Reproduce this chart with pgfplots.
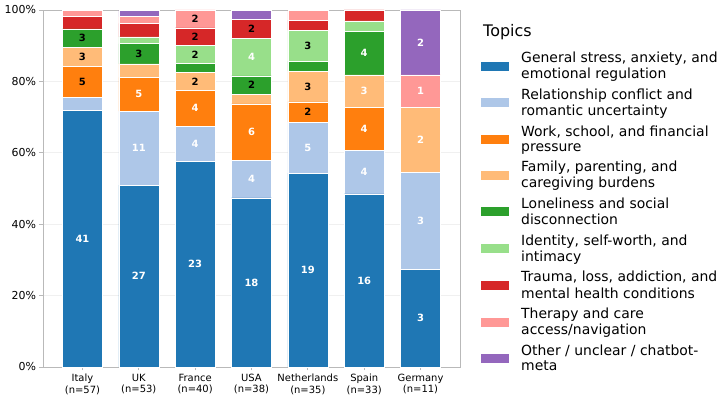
\documentclass[border=0pt]{standalone}
\usepackage{pgfplots}
\pgfplotsset{compat=1.18}
\usepackage{pgfplotstable}
\usepackage{fontspec}
\setmainfont{DejaVu Sans}

\definecolor{cGen}{HTML}{1F77B4}
\definecolor{cRel}{HTML}{AEC7E8}
\definecolor{cWork}{HTML}{FF7F0E}
\definecolor{cFam}{HTML}{FFBB78}
\definecolor{cLone}{HTML}{2CA02C}
\definecolor{cIdent}{HTML}{98DF8A}
\definecolor{cTrauma}{HTML}{D62728}
\definecolor{cTher}{HTML}{FF9896}
\definecolor{cOther}{HTML}{9467BD}

% conversation counts per topic, one row per country (n = total)
\pgfplotstableread{
x n  gen rel work fam lone ident trauma ther other
0 57 41  2   5    3   3    0     2      1    0
1 53 27  11  5    2   3    1     2      1    1
2 40 23  4   4    2   1    2     2      2    0
3 38 18  4   6    1   2    4     2      0    1
4 35 19  5   2    3   1    3     1      1    0
5 33 16  4   4    3   4    1     1      0    0
6 11 3   3   0    2   0    0     0      1    2
}\topics

% for a topic column: its share in percent, and a "count/n" label column
\newcommand\prep[1]{%
  \pgfplotstablecreatecol[expr={\thisrow{#1}/\thisrow{n}*100}]{#1p}\topics
  \pgfplotstablecreatecol[create col/assign/.code={%
      \getthisrow{#1}\segc \getthisrow{n}\segn
      \edef\segentry{\segc/\segn}%
      \pgfkeyslet{/pgfplots/table/create col/next content}\segentry}]{#1l}\topics}
\prep{gen}\prep{rel}\prep{work}\prep{fam}\prep{lone}
\prep{ident}\prep{trauma}\prep{ther}\prep{other}

% segment label: hidden below 5 %, black up to 9 %, white above
\def\seglab#1/#2\relax{%
  \pgfmathsetmacro\segshare{#1/#2}%
  \pgfmathtruncatemacro\lvl{\segshare<0.049 ? 0 : (\segshare<0.09 ? 1 : 2)}%
  \ifcase\lvl
  \or\textcolor{black}{#1}%
  \or\textcolor{white}{#1}%
  \fi}

\pgfplotsset{
  seg/.style={draw=white, line width=0.5bp, forget plot,
    point meta=explicit symbolic,
    nodes near coords={\expandafter\seglab\pgfplotspointmeta\relax},
    every node near coord/.style={anchor=center, inner sep=0pt,
      font=\bfseries\fontsize{10}{12}\selectfont}},
  swatch/.style={legend image code/.code={\fill[##1, draw=none] (0bp,-4.5bp) rectangle (28bp,4.5bp);}},
}

\newcommand\segplot[3]{%
  \addplot[seg, fill=#2] table[x=x, y=#1p, meta=#1l]{\topics};
  \addlegendimage{swatch, fill=#2}
  \addlegendentry{#3}}

\begin{document}
\begin{tikzpicture}
\useasboundingbox (-43bp,-32bp) rectangle (680bp,367bp);
\begin{axis}[
  at={(0,0)}, anchor=south west,
  scale only axis, width=417bp, height=357bp,
  ybar stacked, bar width=0.71,
  xmin=-0.7, xmax=6.7, ymin=0, ymax=100,
  xtick={0,...,6},
  xticklabels={{Italy\\(n=57)},{UK\\(n=53)},{France\\(n=40)},{USA\\(n=38)},
                {Netherlands\\(n=35)},{Spain\\(n=33)},{Germany\\(n=11)}},
  ytick={0,20,...,100},
  yticklabel={\pgfmathprintnumber{\tick}\%},
  /pgf/number format/assume math mode=true,
  xticklabel style={font=\fontsize{10}{11.5}\selectfont, align=center},
  yticklabel style={font=\fontsize{11}{13}\selectfont},
  tick pos=left, tick align=outside, major tick length=3.5bp,
  axis line style={draw=gray!55, line width=0.8bp},
  tick style={draw=gray!55, line width=0.8bp},
  ymajorgrids, grid style={draw=gray!12, line width=0.6bp},
  clip=false,
  legend cell align=left,
  legend style={draw=none, fill=none, inner sep=0pt,
    at={(1.0504,0.4342)}, anchor=west,
    row sep=8.55bp, column sep=12bp,
    nodes={inner sep=0pt},
    cells={align=left},
    font=\fontsize{14}{15}\selectfont},
]
\segplot{gen}{cGen}{\strut General stress, anxiety, and\\\strut emotional regulation}
\segplot{rel}{cRel}{\strut Relationship conflict and\\\strut romantic uncertainty}
\segplot{work}{cWork}{\strut Work, school, and financial\\\strut pressure}
\segplot{fam}{cFam}{\strut Family, parenting, and\\\strut caregiving burdens}
\segplot{lone}{cLone}{\strut Loneliness and social\\\strut disconnection}
\segplot{ident}{cIdent}{\strut Identity, self-worth, and\\\strut intimacy}
\segplot{trauma}{cTrauma}{\strut Trauma, loss, addiction, and\\\strut mental health conditions}
\segplot{ther}{cTher}{\strut Therapy and care\\\strut access/navigation}
\segplot{other}{cOther}{\strut Other / unclear / chatbot-\\\strut meta}
\end{axis}
\node[anchor=base west, inner sep=0pt, font=\fontsize{16}{19}\selectfont] at (440bp,330bp) {Topics};
\end{tikzpicture}
\end{document}
